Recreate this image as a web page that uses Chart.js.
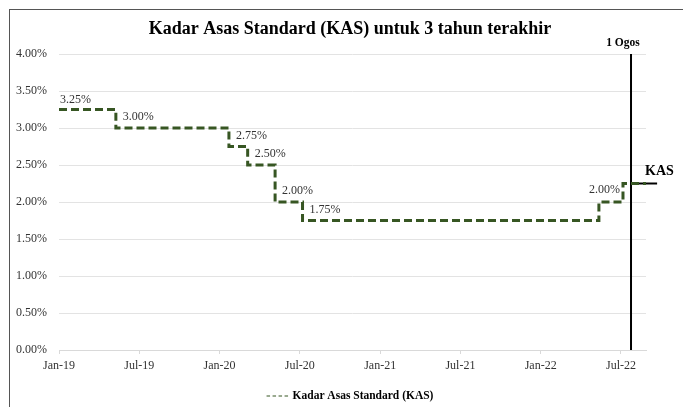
<!DOCTYPE html>
<html>
<head>
<meta charset="utf-8">
<script src="https://cdn.jsdelivr.net/npm/chart.js@4.4.1/dist/chart.umd.min.js"></script>
<style>
  html, body { margin: 0; padding: 0; background: #fff; overflow: hidden; }
  #wrap { position: relative; width: 683px; height: 407px; }
  #frame {
    position: absolute; left: 9px; top: 9px; right: -5px; bottom: -5px;
    border-left: 1px solid #555; border-top: 1px solid #555;
    pointer-events: none;
  }
</style>
</head>
<body>
<div id="wrap">
  <canvas id="kasChart" width="683" height="407"></canvas>
  <div id="frame"></div>
</div>
<script>
// ----- Data (x = months since Jan 2019) -----
const chartTitle = 'Kadar Asas Standard (KAS) untuk 3 tahun terakhir';
const seriesName = 'Kadar Asas Standard (KAS)';
const stepMonths = [0, 4.25, 12.7, 14.1, 16.15, 18.2, 40.35, 42.15, 43.87];
const kasRates = [3.25, 3.00, 2.75, 2.50, 2.00, 1.75, 2.00, 2.25, 2.25];
const rateLabels = ['3.25%', '3.00%', '2.75%', '2.50%', '2.00%', '1.75%', '2.00%', '', ''];
const tickMonths = [0, 6, 12, 18, 24, 30, 36, 42];
const tickLabels = ['Jan-19', 'Jul-19', 'Jan-20', 'Jul-20', 'Jan-21', 'Jul-21', 'Jan-22', 'Jul-22'];
const ogosMonth = 42.75;      // 1 Ogos 2022
const ogosLabel = '1 Ogos';
const kasNow = 2.25;
const kasLineEnd = 44.7;
const kasLabel = 'KAS';

const green = '#375623';
const serif = '"Liberation Serif", "Times New Roman", serif';

// ----- Labels, title and legend drawn on top -----
const overlayPlugin = {
  id: 'overlay',
  afterDatasetsDraw(chart) {
    const { ctx, chartArea } = chart;
    const pts = chart.getDatasetMeta(0).data;
    const ogos = chart.getDatasetMeta(1).data;
    const kas = chart.getDatasetMeta(2).data;
    ctx.save();

    // title
    ctx.fillStyle = '#000';
    ctx.font = 'bold 18px ' + serif;
    ctx.textAlign = 'center';
    ctx.textBaseline = 'alphabetic';
    ctx.fillText(chartTitle, 350, 34);

    // value labels
    ctx.font = '12px ' + serif;
    ctx.fillStyle = '#333';
    ctx.textBaseline = 'middle';
    rateLabels.forEach((txt, i) => {
      if (!txt) return;
      const p = pts[i];
      if (i === 0) {
        ctx.textAlign = 'left';
        ctx.fillText(txt, p.x + 1, p.y - 10);
      } else if (i === 6) {
        ctx.textAlign = 'right';
        ctx.fillText(txt, pts[i + 1].x - 3, p.y - 12);
      } else {
        ctx.textAlign = 'left';
        ctx.fillText(txt, p.x + 7, p.y - 11);
      }
    });

    // 1 Ogos / KAS
    ctx.fillStyle = '#000';
    ctx.font = 'bold 11.5px ' + serif;
    ctx.textAlign = 'center';
    ctx.fillText(ogosLabel, ogos[0].x - 8, chartArea.top - 11);
    ctx.font = 'bold 14px ' + serif;
    ctx.textAlign = 'left';
    ctx.fillText(kasLabel, kas[0].x + 14, kas[0].y - 12);

    // legend
    ctx.font = 'bold 11.5px ' + serif;
    const tw = ctx.measureText(seriesName).width;
    const lx = 350 - (26 + tw) / 2;
    const ly = 396;
    ctx.strokeStyle = green;
    ctx.lineWidth = 1.2;
    ctx.setLineDash([3.5, 2.5]);
    ctx.beginPath();
    ctx.moveTo(lx, ly);
    ctx.lineTo(lx + 24, ly);
    ctx.stroke();
    ctx.setLineDash([]);
    ctx.fillStyle = '#000';
    ctx.fillText(seriesName, lx + 26, ly);

    ctx.restore();
  }
};

const ctx = document.getElementById('kasChart').getContext('2d');

new Chart(ctx, {
  type: 'line',
  data: {
    datasets: [
      {
        label: seriesName,
        data: stepMonths.map((m, i) => ({ x: m, y: kasRates[i] })),
        borderColor: green,
        borderWidth: 3,
        borderDash: [8, 4],
        stepped: 'before',
        pointRadius: 0,
        fill: false,
      },
      {
        label: ogosLabel,
        data: [{ x: ogosMonth, y: 0 }, { x: ogosMonth, y: 4 }],
        borderColor: '#000',
        borderWidth: 2,
        pointRadius: 0,
      },
      {
        label: kasLabel,
        data: [{ x: ogosMonth, y: kasNow }, { x: kasLineEnd, y: kasNow }],
        borderColor: '#000',
        borderWidth: 2,
        pointRadius: 0,
        clip: false,
      },
    ],
  },
  options: {
    responsive: false,
    animation: false,
    layout: { padding: { left: 10, right: 37, top: 54, bottom: 0 } },
    plugins: {
      legend: { display: false },
      title: { display: false },
      tooltip: { enabled: false },
    },
    scales: {
      x: {
        type: 'linear',
        min: 0,
        max: 43.87,
        afterBuildTicks: (scale) => {
          scale.ticks = tickMonths.map((v) => ({ value: v }));
        },
        afterFit: (scale) => { scale.height = 57; },
        ticks: {
          autoSkip: false,
          maxRotation: 0,
          padding: 5,
          color: '#333',
          font: { family: serif, size: 12 },
          callback: (v) => tickLabels[tickMonths.indexOf(v)],
        },
        grid: { drawOnChartArea: false, tickLength: 4, color: '#d9d9d9' },
        border: { color: '#d9d9d9' },
      },
      y: {
        min: 0,
        max: 4,
        afterFit: (scale) => { scale.width = 49; },
        ticks: {
          stepSize: 0.5,
          padding: 12,
          color: '#333',
          font: { family: serif, size: 12 },
          callback: (v) => v.toFixed(2) + '%',
        },
        grid: { color: '#e3e3e3', drawTicks: false },
        border: { display: false },
      },
    },
  },
  plugins: [overlayPlugin],
});
</script>
</body>
</html>
